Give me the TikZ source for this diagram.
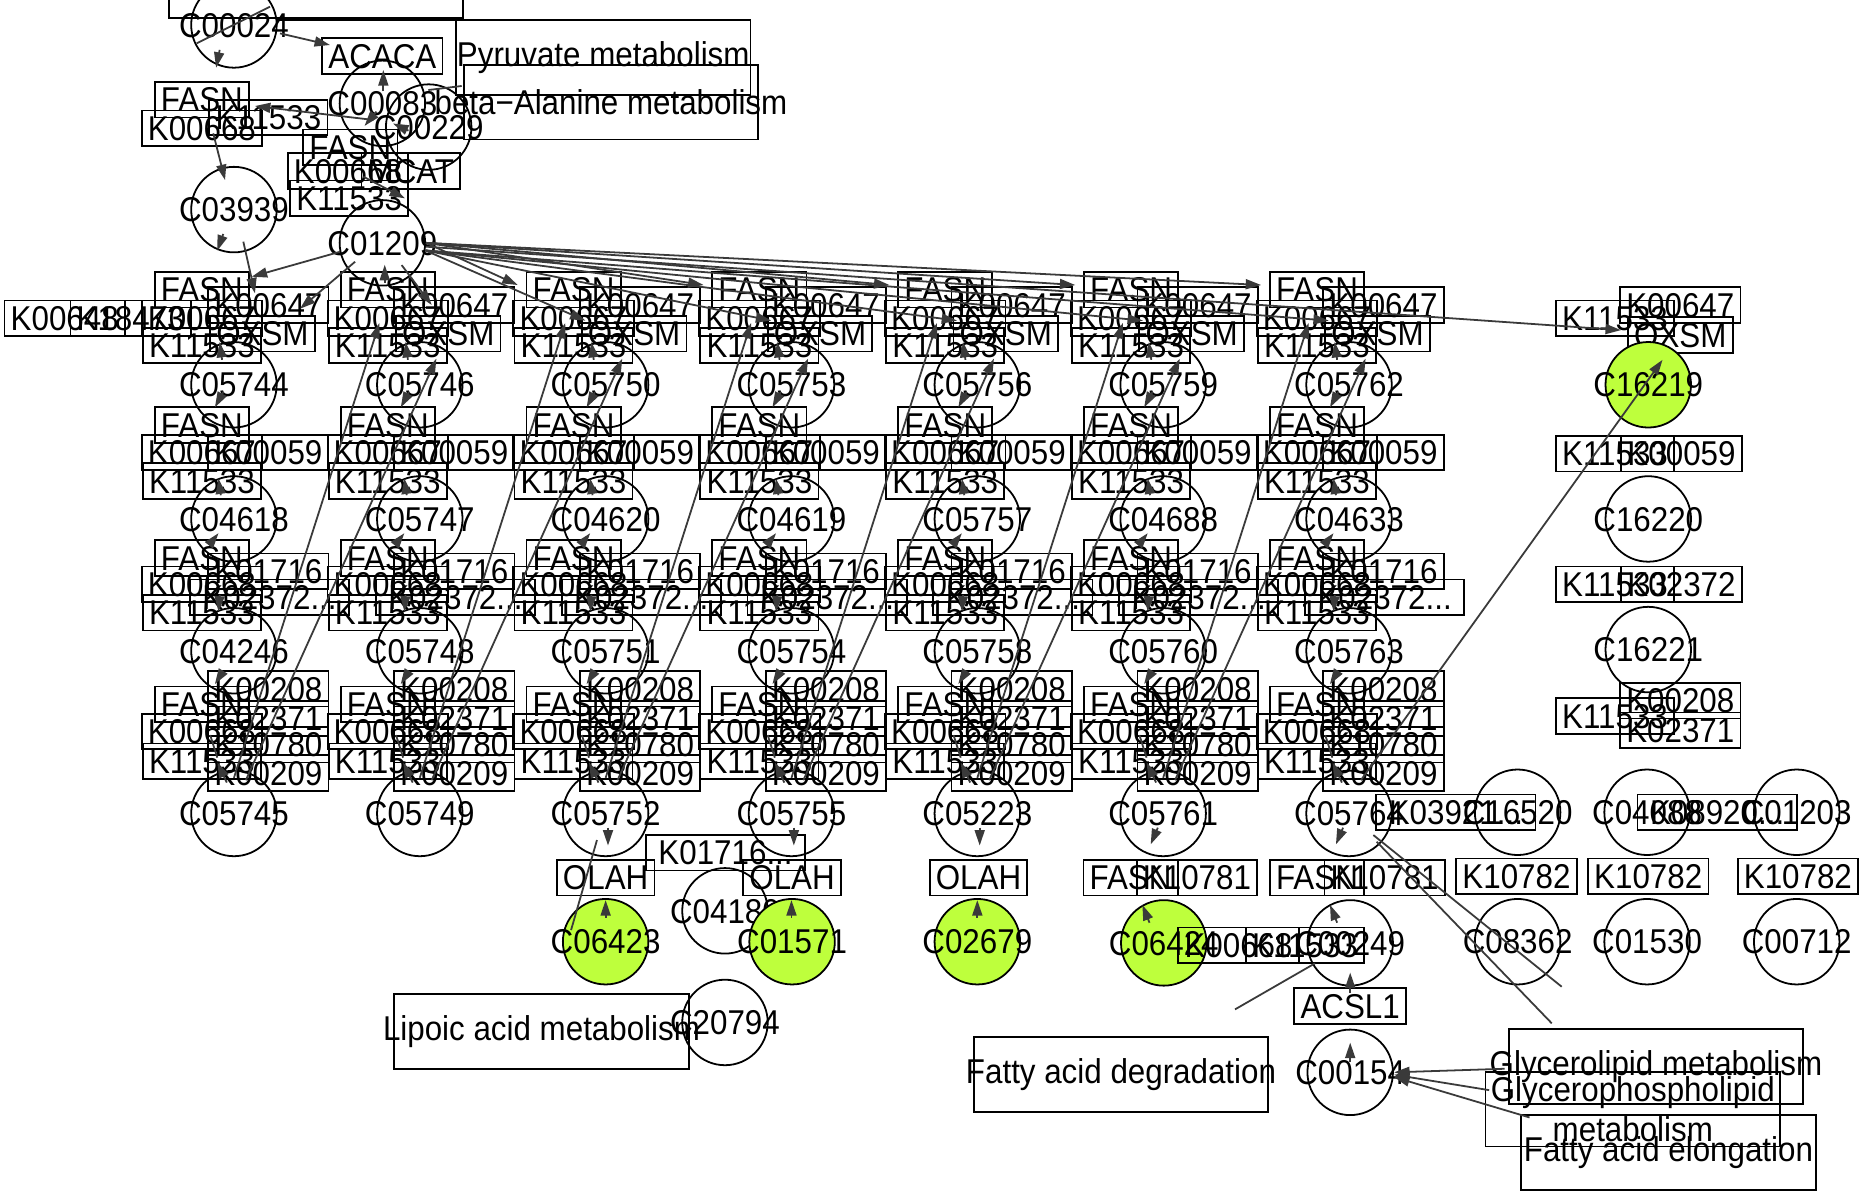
\documentclass[tikz,border=0pt]{standalone}
\usepackage{fontspec}
\setmainfont{Liberation Sans}[FakeStretch=0.91]
\usetikzlibrary{arrows.meta}
\definecolor{lg}{RGB}{190,255,60}
\definecolor{eg}{RGB}{58,58,58}
\newcommand\fs{\fontsize{14.5pt}{17pt}\selectfont}
\newcommand\cpd[4][cpdst]{\node[#1] (#2) at (#3) {\makebox[0pt]{#4}};}
\begin{document}
\begin{tikzpicture}[x=0.5pt,y=-0.5pt,
 every node/.style={font=\fs},
 gbox/.style={draw=black,line width=0.75pt,rectangle,minimum height=15pt,inner xsep=2.6pt,inner ysep=0pt,text height=10.3pt,text depth=0pt},
 dbox/.style={gbox,minimum width=67pt},
 cpdst/.style={draw=black,line width=0.75pt,circle,minimum size=36pt,inner sep=0pt,text height=10.3pt,text depth=0pt},
 gcpd/.style={cpdst,fill=lg},
 mapbox/.style={draw=black,line width=0.75pt,rectangle,minimum width=124pt,minimum height=31.5pt,inner sep=0pt,align=center},
 edge/.style={draw=eg,line width=0.75pt},
 arr/.style={edge,-{Triangle[length=6.5pt,width=4.2pt]}},
]
\fill[white] (0,0) rectangle (1568,1003);
\path[use as bounding box] (0,0) rectangle (1568,1003);

% ---------- map boxes ----------
\node[mapbox] (topmap) at (266,-16.5) {};
\node[mapbox] (pyr) at (508,48.5) {\makebox[0pt]{Pyruvate metabolism}};
\node[mapbox] (bala) at (514.5,86) {\makebox[0pt]{beta−Alanine metabolism}};
\node[mapbox] (lipoic) at (456,868.5) {\makebox[0pt]{Lipoic acid metabolism}};
\node[mapbox] (fadeg) at (944,905) {\makebox[0pt]{Fatty acid degradation}};
\node[mapbox] (glyc) at (1394.5,898) {\makebox[0pt]{Glycerolipid metabolism}};
\node[mapbox] (glyp) at (1375,934) {Glycerophospholipid\\metabolism};
\node[mapbox] (fael) at (1405,970.5) {\makebox[0pt]{Fatty acid elongation}};
\draw[line width=0.75pt] (232,17) -- (384,17);

% ---------- top part ----------
\cpd{c00024}{197,21}{C00024}
\node[gbox] (acaca) at (322,47) {ACACA};
\cpd{c00083}{322,87}{C00083}
\cpd{c00229}{361,107}{C00229}
\node[gbox] (fasnT1) at (170,84) {FASN};
\node[gbox] (k668T1) at (170,108) {K00668};
\node[gbox] (k11533T1) at (226,99) {K11533};
\node[gbox] (fasnT2) at (295,124) {FASN};
\node[gbox] (k668T2) at (293,144) {K00668};
\node[gbox] (mcat) at (346,144) {MCAT};
\node[gbox] (k11533T2) at (294,167) {K11533};
\cpd{c01209}{322,204.5}{C01209}
\cpd{c03939}{197,176.5}{C03939}
\node[gbox] (k00648) at (54.5,268) {K00648};
\node[gbox] (k18473) at (110,268) {K18473};

% ---------- seven repeated columns ----------
\foreach \i/\cx/\ca/\cb/\cc/\cd in {
1/197/C05744/C04618/C04246/C05745,
2/353.5/C05746/C05747/C05748/C05749,
3/510/C05750/C04620/C05751/C05752,
4/666.5/C05753/C04619/C05754/C05755,
5/823/C05756/C05757/C05758/C05223,
6/979.5/C05759/C04688/C05760/C05761,
7/1136/C05762/C04633/C05763/C05764}{
 \node[gbox] (fA\i) at (\cx-27,244) {FASN};
 \node[gbox] (kA\i) at (\cx+29,257) {K00647};
 \node[gbox] (gA\i) at (\cx-27,268) {K00667};
 \node[gbox] (oA\i) at (\cx+24,281) {OXSM};
 \node[gbox] (hA\i) at (\cx-27,291) {K11533};
 \cpd{ca\i}{\cx,324}{\ca}
 \node[gbox] (fB\i) at (\cx-27,358) {FASN};
 \node[gbox] (gB\i) at (\cx-27,381) {K00667};
 \node[gbox] (kB\i) at (\cx+29,381) {K00059};
 \node[gbox] (hB\i) at (\cx-27,405) {K11533};
 \cpd{cb\i}{\cx,437}{\cb}
 \node[gbox] (fC\i) at (\cx-27,470) {FASN};
 \node[gbox] (kC\i) at (\cx+29,481) {K01716};
 \node[gbox] (gC\i) at (\cx-27,492) {K00668};
 \node[dbox] (zC\i) at (\cx+30,503) {K02372...};
 \node[gbox] (hC\i) at (\cx-27,516) {K11533};
 \cpd{cc\i}{\cx,548}{\cc}
 \node[gbox] (kD\i) at (\cx+29,580) {K00208};
 \node[gbox] (fD\i) at (\cx-27,593) {FASN};
 \node[gbox] (lD\i) at (\cx+29,605) {K02371};
 \node[gbox] (gD\i) at (\cx-27,616) {K00668};
 \node[gbox] (mD\i) at (\cx+29,627) {K10780};
 \node[gbox] (hD\i) at (\cx-27,641) {K11533};
 \node[gbox] (vD\i) at (\cx+29,651) {K00209};
 \cpd{cd\i}{\cx,685}{\cd}
}

% ---------- column 8 ----------
\node[gbox] (h8A) at (1360,268) {K11533};
\node[gbox] (k8A) at (1415,257) {K00647};
\node[gbox] (o8A) at (1415,282) {OXSM};
\cpd[gcpd]{c16219}{1388,324}{C16219}
\node[gbox] (h8B) at (1360,382) {K11533};
\node[gbox] (k8B) at (1416,382) {K00059};
\cpd{c16220}{1388,437}{C16220}
\node[gbox] (h8C) at (1360,492) {K11533};
\node[gbox] (k8C) at (1416,492) {K02372};
\cpd{c16221}{1388,547}{C16221}
\node[gbox] (h8D) at (1360,603) {K11533};
\node[gbox] (k8D) at (1415,590) {K00208};
\node[gbox] (l8D) at (1415,615) {K02371};

% ---------- bottom part ----------
\node[dbox] (k03921) at (1226,684) {K03921...};
\cpd{c16520}{1278,684}{C16520}
\cpd{c04088}{1387,684}{C04088}
\node[dbox] (k08920) at (1446,684) {K08920...};
\cpd{c01203}{1513,684}{C01203}
\node[dbox] (k01716E) at (611,718) {K01716...};
\node[gbox] (olah3) at (510,739) {OLAH};
\node[gbox] (olah4) at (667,739) {OLAH};
\node[gbox] (olah5) at (824,739) {OLAH};
\node[gbox] (fasnE6) at (952,739) {FASN};
\node[gbox] (k10781a) at (1008,739) {K10781};
\node[gbox] (fasnE7) at (1109,739) {FASN};
\node[gbox] (k10781b) at (1166,739) {K10781};
\node[gbox] (k10782a) at (1277,738) {K10782};
\node[gbox] (k10782b) at (1388,738) {K10782};
\node[gbox] (k10782c) at (1514,738) {K10782};
\cpd[gcpd]{c06423}{510,793}{C06423}
\cpd{c04180}{610.5,767}{C04180}
\cpd[gcpd]{c01571}{667,793}{C01571}
\cpd[gcpd]{c02679}{823,793}{C02679}
\cpd[gcpd]{c06424}{980,794}{C06424}
\node[gbox] (k668E) at (1043,796) {K00668};
\node[gbox] (k11533E) at (1099,796) {K11533};
\cpd{c00249}{1137,794}{C00249}
\cpd{c08362}{1278,793}{C08362}
\cpd{c01530}{1387,793}{C01530}
\cpd{c00712}{1513,793}{C00712}
\cpd{c20794}{610.5,861}{C20794}
\node[gbox] (acsl1) at (1137,847) {ACSL1};
\cpd{c00154}{1137,903}{C00154}

% ---------- edges: top ----------
\draw[edge] (165.6,36.5) -- (227.4,5.6);
\draw[arr] (185,42) -- (182,57);
\draw[arr] (235.8,28.1) -- (277.9,37.9);
\draw[arr] (322.8,77) -- (322.8,59);
\draw[edge] (360.7,75.8) -- (388.8,72.4);
\draw[arr] (314.4,101) -- (214.7,89.3);
\draw[arr] (317,94) -- (307,106);
\draw[arr] (344,110) -- (331,104);
\draw[arr] (179.6,112.3) -- (189.5,151.6);
\draw[arr] (306,148.8) -- (341,167);
\draw[arr] (324,238) -- (324,223);
\draw[arr] (188,197) -- (183,211);
\draw[arr] (204.9,203.5) -- (214.7,247);
\draw[arr] (286.3,212) -- (212,233);
\draw[arr] (299,220.4) -- (252.6,260);
\draw[arr] (338.2,223.2) -- (363.5,256.8);
\foreach \cx in {510,666.5,823,979.5,1136}{
 \draw[arr] (c01209.east) -- (\cx-74,240);
 \draw[arr] (c01209.-10) -- (\cx-17,270);
}
\draw[arr] (c01209.-5) -- (1365,278);

% ---------- edges: columns ----------
\foreach \cx in {197,353.5,510,666.5,823,979.5,1136}{
 \draw[arr] (\cx-10,303) -- (\cx-12,288);
 \draw[arr] (\cx-9,330) -- (\cx-16,343);
 \draw[arr] (\cx-11,417) -- (\cx-13,403);
 \draw[arr] (\cx-21,459) -- (\cx-13,449);
 \draw[arr] (\cx-12,501) -- (\cx-13,515);
 \draw[arr] (\cx-9,565) -- (\cx-16,576);
 \draw[edge] (\cx-20,619) -- (\cx-14,638);
 \draw[arr] (\cx-6,659) -- (\cx-14,642);
}
\foreach \cx in {197,353.5,510,666.5,823,979.5}{
 \draw[arr] (\cx,655) -- (\cx+122.5,272);
 \draw[arr] (\cx+10,657) -- (\cx+170.5,302);
}
\draw[arr] (1146,657) -- (1400,303);

% ---------- edges: bottom ----------
\foreach \cx in {510,666.5,823}{
 \draw[arr] (\cx+2,697) -- (\cx+2,712);
 \draw[arr] (\cx,773) -- (\cx,758);
}
\draw[arr] (975,697) -- (969,711);
\draw[arr] (968,777) -- (962,762);
\draw[arr] (1131,697) -- (1125,711);
\draw[arr] (1126,777) -- (1120,762);
\draw[arr] (1137,836) -- (1137,819);
\draw[arr] (1137,894) -- (1137,878);
\draw[edge] (502.7,707.4) -- (480.9,783.2);
\draw[edge] (1040,850) -- (1107.4,811.2);
\draw[edge] (1156.5,703.2) -- (1315.1,830.9);
\draw[edge] (1159.3,708.8) -- (1306.7,861.7);
\draw[arr] (1267,900) -- (1174,903);
\draw[arr] (1254,918) -- (1174,905);
\draw[arr] (1288,941) -- (1174,907);
\end{tikzpicture}
\end{document}
